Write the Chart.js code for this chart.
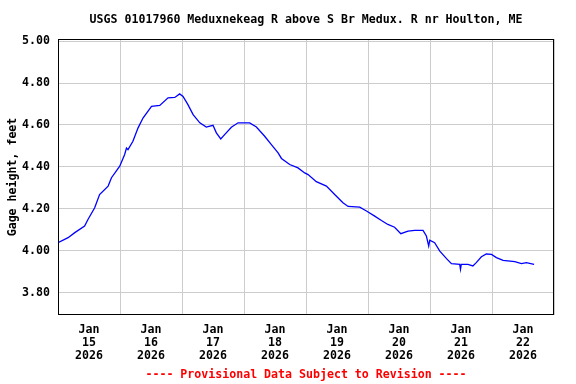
<!DOCTYPE html>
<html>
<head>
<meta charset="utf-8">
<script src="https://cdn.jsdelivr.net/npm/chart.js@4.4.1/dist/chart.umd.min.js"></script>
<style>
  html, body { margin: 0; padding: 0; background: #fff; }
  #wrap { width: 576px; height: 384px; }
</style>
</head>
<body>
<div id="wrap"><canvas id="gageChart" width="576" height="384"></canvas></div>
<script>
// hours since Jan 15 2026 00:00, and gage height in feet
const hours = [0, 3.9, 6.5, 10.3, 11.6, 14.2, 16.1, 19.4, 20.7, 23.9, 25.8, 26.5, 27.1, 29.0, 31.0,
  32.9, 36.2, 39.4, 42.6, 45.2, 47.1, 48.4, 50.3, 52.3, 54.9, 57.4, 60.0, 61.3, 63.0, 64.5,
  67.1, 69.7, 74.2, 76.8, 80.0, 82.6, 85.2, 86.5, 89.7, 92.9, 95.5, 96.8, 100.0, 103.9, 107.1,
  110.3, 112.3, 116.8, 119.4, 122.6, 125.2, 127.7, 130.3, 132.7, 135.5, 138.1, 141.3, 142.6, 143.5,
  143.9, 145.8, 147.8, 150.4, 152.3, 155.5, 155.8, 156.1, 158.7, 160.6, 161.9, 163.9, 165.8, 167.8,
  169.7, 172.3, 176.8, 179.4, 181.3, 184.3];
const gage = [4.038, 4.062, 4.086, 4.117, 4.149, 4.205, 4.268, 4.308, 4.348, 4.403, 4.459, 4.490, 4.482, 4.522, 4.586,
  4.633, 4.689, 4.693, 4.729, 4.731, 4.748, 4.736, 4.697, 4.649, 4.610, 4.590, 4.598, 4.562, 4.533, 4.554,
  4.589, 4.610, 4.610, 4.590, 4.546, 4.506, 4.467, 4.440, 4.411, 4.395, 4.371, 4.363, 4.329, 4.308, 4.268,
  4.229, 4.211, 4.208, 4.189, 4.165, 4.144, 4.125, 4.112, 4.081, 4.093, 4.097, 4.097, 4.070, 4.022,
  4.050, 4.038, 3.998, 3.962, 3.938, 3.935, 3.911, 3.935, 3.935, 3.927, 3.943, 3.971, 3.984, 3.982,
  3.967, 3.954, 3.948, 3.938, 3.943, 3.935];

const dayLabels = ['15', '16', '17', '18', '19', '20', '21', '22'];
const monthLabel = 'Jan';
const yearLabel = '2026';
const yTicks = [3.80, 4.00, 4.20, 4.40, 4.60, 4.80, 5.00];

const titleText = 'USGS 01017960 Meduxnekeag R above S Br Medux. R nr Houlton, ME';
const footerText = '---- Provisional Data Subject to Revision ----';

const FONT = "'DejaVu Sans Mono', 'Liberation Mono', monospace";

// frame round the plot, plus title and footer centred over the plot area
const frame = {
  id: 'frame',
  afterDraw(chart) {
    const { ctx, chartArea: a } = chart;
    ctx.save();
    ctx.strokeStyle = '#000';
    ctx.lineWidth = 1;
    ctx.strokeRect(Math.round(a.left) + 0.5, Math.round(a.top) + 0.5,
      Math.round(a.right - a.left) - 1, Math.round(a.bottom - a.top) - 1);

    const cx = (a.left + a.right) / 2;
    ctx.font = 'bold 11.6px ' + FONT;
    ctx.textAlign = 'center';
    ctx.textBaseline = 'middle';
    ctx.fillStyle = '#000';
    ctx.fillText(titleText, cx, 20);
    ctx.fillStyle = '#ff0000';
    ctx.fillText(footerText, cx, 375);
    ctx.restore();
  }
};

const ctx = document.getElementById('gageChart').getContext('2d');
const chart = new Chart(ctx, {
  type: 'line',
  data: {
    datasets: [{
      data: hours.map((h, i) => ({ x: h, y: gage[i] })),
      borderColor: '#0000ff',
      borderWidth: 1.3,
      pointRadius: 0,
      tension: 0,
      fill: false
    }]
  },
  options: {
    responsive: false,
    animation: false,
    layout: { padding: { left: 0, right: 22, top: 39, bottom: 17 } },
    plugins: {
      legend: { display: false },
      tooltip: { enabled: false },
      title: { display: false }
    },
    scales: {
      x: {
        type: 'linear',
        min: 0,
        max: 192,
        afterBuildTicks: (scale) => {
          const t = [];
          for (let h = 0; h <= 192; h += 12) t.push({ value: h });
          scale.ticks = t;
        },
        afterFit: (scale) => { scale.height = 52; },
        border: { display: false },
        grid: {
          drawTicks: false,
          lineWidth: 1,
          color: (c) => {
            const v = c.tick ? c.tick.value : 0;
            return (v % 24 === 0) ? '#cccccc' : 'rgba(0,0,0,0)';
          }
        },
        ticks: {
          autoSkip: false,
          maxRotation: 0,
          padding: 8,
          color: '#000',
          font: { family: FONT, size: 11.6, weight: 'bold', lineHeight: '13px' },
          callback: (v) => {
            if (v % 24 !== 12) return '';
            const d = dayLabels[(v - 12) / 24];
            return d ? [monthLabel, d, yearLabel] : '';
          }
        }
      },
      y: {
        min: 3.693,
        max: 5.01,
        afterBuildTicks: (scale) => { scale.ticks = yTicks.map(v => ({ value: v })); },
        afterFit: (scale) => { scale.width = 58; },
        border: { display: false },
        grid: { drawTicks: false, color: '#cccccc', lineWidth: 1 },
        ticks: {
          padding: 8,
          color: '#000',
          font: { family: FONT, size: 11.6, weight: 'bold' },
          callback: (v) => Number(v).toFixed(2)
        },
        title: {
          display: true,
          text: 'Gage height, feet',
          color: '#000',
          font: { family: FONT, size: 11.6, weight: 'bold', lineHeight: 1.2 },
          padding: { top: 6, bottom: 0 }
        }
      }
    }
  },
  plugins: [frame]
});
</script>
</body>
</html>
